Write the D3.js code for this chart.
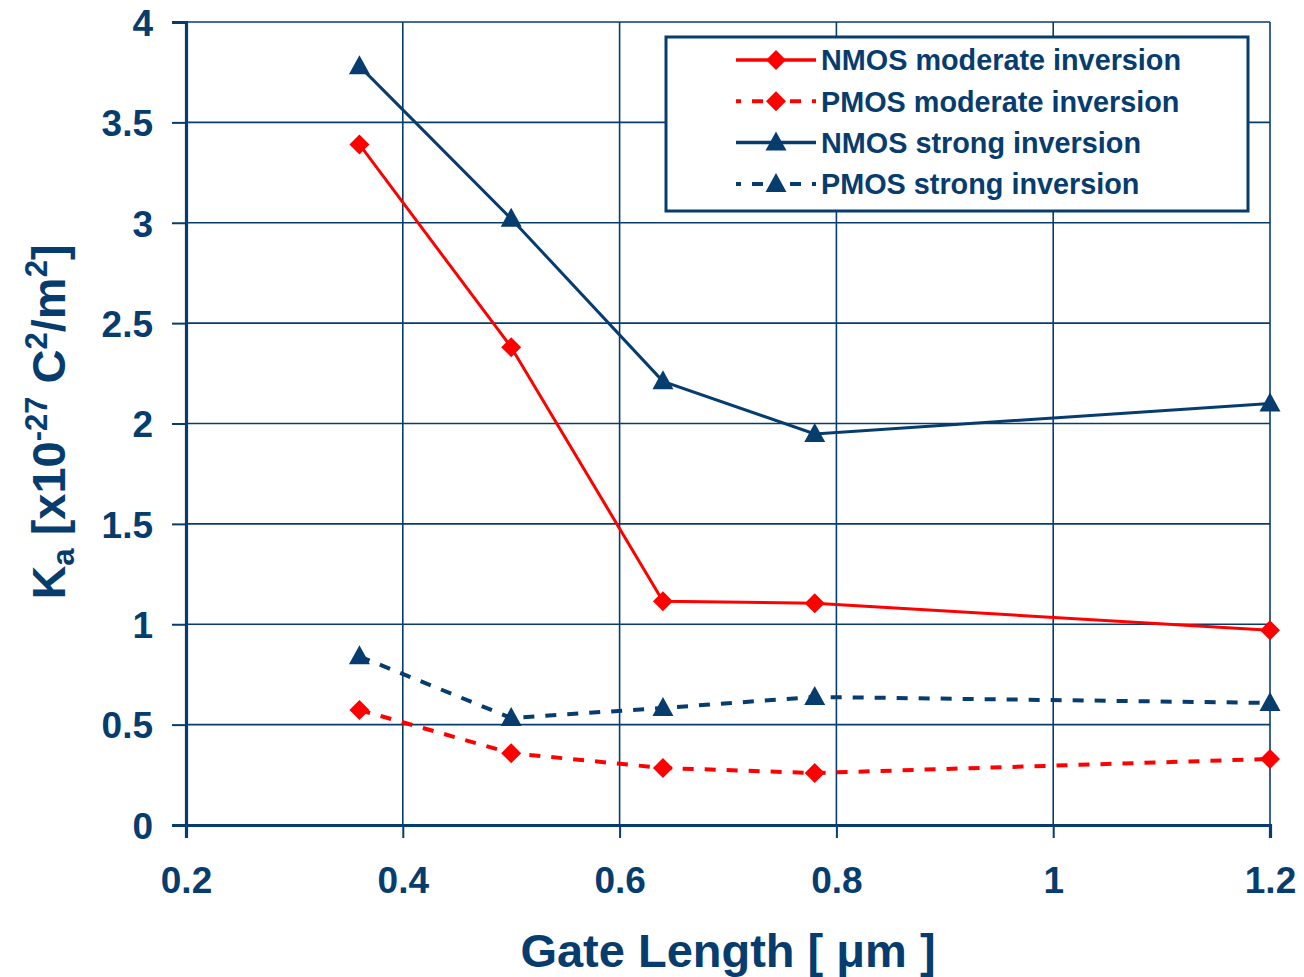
<!DOCTYPE html>
<html>
<head>
<meta charset="utf-8">
<style>
  body { margin: 0; background: #fff; }
  svg text { font-family: "Liberation Sans", Arial, sans-serif; font-weight: bold; fill: #073c6e; }
</style>
</head>
<body>
<svg id="chart" width="1304" height="977"></svg>
<script src="https://cdnjs.cloudflare.com/ajax/libs/d3/7.8.5/d3.min.js"></script>
<script>
// data
var gateLength = [0.36, 0.5, 0.64, 0.78, 1.2];
var nmosModerate = [3.39, 2.38, 1.115, 1.105, 0.97];
var pmosModerate = [0.573, 0.358, 0.284, 0.259, 0.329];
var nmosStrong = [3.78, 3.02, 2.21, 1.948, 2.10];
var pmosStrong = [0.84, 0.533, 0.583, 0.638, 0.608];
var xTicks = [0.2, 0.4, 0.6, 0.8, 1, 1.2];
var yTicks = [0, 0.5, 1, 1.5, 2, 2.5, 3, 3.5, 4];

var blue = "#073c6e", red = "#ff0000";

var series = [
  {name: "NMOS moderate inversion", values: nmosModerate, color: red, dashed: false, marker: "diamond"},
  {name: "PMOS moderate inversion", values: pmosModerate, color: red, dashed: true, marker: "diamond"},
  {name: "NMOS strong inversion", values: nmosStrong, color: blue, dashed: false, marker: "triangle"},
  {name: "PMOS strong inversion", values: pmosStrong, color: blue, dashed: true, marker: "triangle"}
];

var margin = {top: 22, right: 34, bottom: 152, left: 186};
var width = 1304 - margin.left - margin.right,
    height = 977 - margin.top - margin.bottom;

var svg = d3.select("#chart");
var g = svg.append("g").attr("transform", "translate(" + margin.left + "," + margin.top + ")");

var x = d3.scaleLinear().domain([0.2, 1.2]).range([0, width]);
var y = d3.scaleLinear().domain([0, 4]).range([height, 0]);

// grid
g.selectAll(".vgrid").data(xTicks).enter().append("line")
  .attr("x1", d => x(d)).attr("x2", d => x(d))
  .attr("y1", 0).attr("y2", height)
  .style("stroke", blue).style("stroke-width", 1.6);
g.selectAll(".hgrid").data(yTicks).enter().append("line")
  .attr("x1", 0).attr("x2", width)
  .attr("y1", d => y(d)).attr("y2", d => y(d))
  .style("stroke", blue).style("stroke-width", 1.6);

// axes
var xAxis = g.append("g").attr("transform", "translate(0," + height + ")")
  .call(d3.axisBottom(x).tickValues(xTicks).tickSize(13).tickPadding(29).tickFormat(d3.format("")));
var yAxis = g.append("g")
  .call(d3.axisLeft(y).tickValues(yTicks).tickSize(14).tickPadding(19).tickFormat(d3.format("")));
[xAxis, yAxis].forEach(function(a) {
  a.select(".domain").style("stroke", blue).style("stroke-width", 3.2);
  a.selectAll(".tick line").style("stroke", blue).style("stroke-width", 2);
  a.selectAll(".tick text").style("font-size", "37px").style("font-family", null);
});
yAxis.selectAll(".tick text").attr("dy", "0.36em");

// lines
var line = d3.line().x((d, i) => x(gateLength[i])).y(d => y(d));

function markerPath(type) {
  if (type === "diamond") return "M0,-10L10,0L0,10L-10,0Z";
  return "M0,-11L10.5,8L-10.5,8Z";
}

series.forEach(function(s) {
  g.append("path")
    .attr("d", line(s.values))
    .style("fill", "none").style("stroke", s.color)
    .style("stroke-width", s.dashed ? 4 : 3)
    .style("stroke-dasharray", s.dashed ? "11,11" : null);
  g.selectAll(null).data(s.values).enter().append("path")
    .attr("transform", (d, i) => "translate(" + x(gateLength[i]) + "," + y(d) + ")")
    .attr("d", markerPath(s.marker))
    .style("fill", s.color);
});

// legend
var lg = svg.append("g").attr("transform", "translate(666,37)");
lg.append("rect").attr("width", 582).attr("height", 174)
  .style("fill", "#fff").style("stroke", blue).style("stroke-width", 3);
series.forEach(function(s, i) {
  var yy = 23 + i * 41.3;
  lg.append("line").attr("x1", 70).attr("x2", 150).attr("y1", yy).attr("y2", yy)
    .style("stroke", s.color).style("stroke-width", s.dashed ? 4 : 3.5)
    .style("stroke-dasharray", s.dashed ? "5,11,11,11" : null);
  lg.append("path").attr("transform", "translate(110," + yy + ")")
    .attr("d", markerPath(s.marker)).style("fill", s.color);
  lg.append("text").attr("x", 155).attr("y", yy).attr("dy", "0.36em")
    .style("font-size", "28.8px").text(s.name);
});

// axis titles
svg.append("text").attr("x", margin.left + x(0.7)).attr("y", 967)
  .attr("text-anchor", "middle").style("font-size", "47px").text("Gate Length [ μm ]");

var yl = svg.append("text")
  .attr("transform", "translate(65,422) rotate(-90)")
  .attr("text-anchor", "middle").style("font-size", "47px");
yl.append("tspan").text("K");
yl.append("tspan").attr("baseline-shift", "-9").style("font-size", "31px").text("a");
yl.append("tspan").text(" [x10");
yl.append("tspan").attr("baseline-shift", "18").style("font-size", "31px").text("-27");
yl.append("tspan").text(" C");
yl.append("tspan").attr("baseline-shift", "18").style("font-size", "31px").text("2");
yl.append("tspan").text("/m");
yl.append("tspan").attr("baseline-shift", "18").style("font-size", "31px").text("2");
yl.append("tspan").text("]");
</script>
</body>
</html>
